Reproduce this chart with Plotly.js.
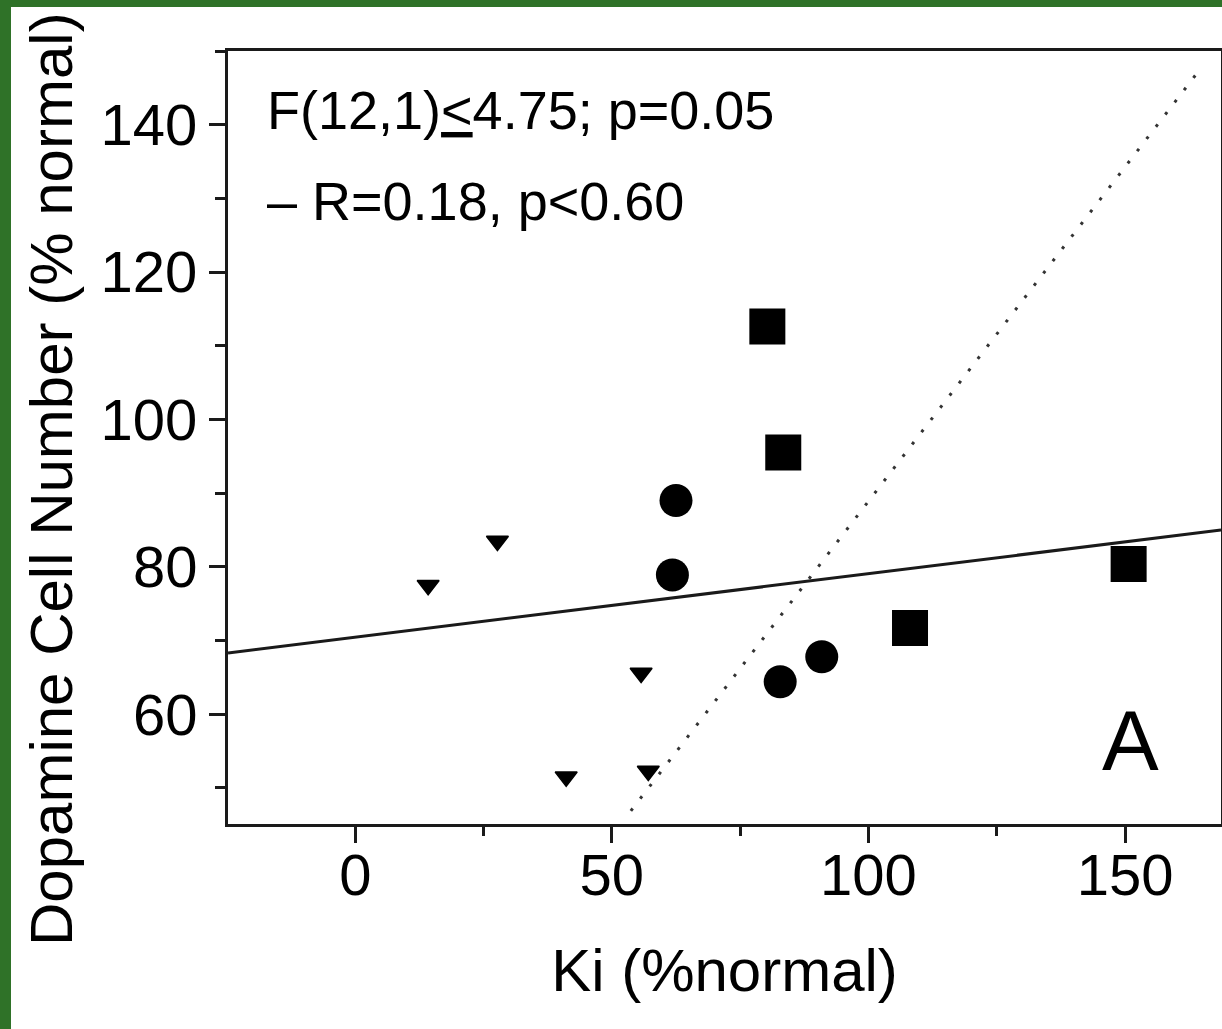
<!DOCTYPE html>
<html>
<head>
<meta charset="utf-8">
<script src="https://cdn.plot.ly/plotly-3.0.1.min.js"></script>
<style>
  html, body { margin: 0; padding: 0; width: 1222px; height: 1029px; overflow: hidden; background: #2f7228; }
  #panel { position: absolute; left: 11px; top: 7px; width: 1211px; height: 1022px; background: #ffffff; }
  #chart { position: absolute; left: 0; top: 0; width: 1222px; height: 1029px; }
</style>
</head>
<body>
<div id="panel"></div>
<div id="chart"></div>
<script>
// ---- data ----
const triX  = [14.2, 27.7, 55.7, 41.1, 57.1];
const triY  = [77.5, 83.5, 65.6, 51.5, 52.3];
const circX = [62.5, 61.8, 82.8, 90.9];
const circY = [89.0, 78.9, 64.4, 67.8];
const sqX   = [80.3, 83.4, 108.1, 150.7];
const sqY   = [112.6, 95.5, 71.7, 80.4];
const fitX  = [-24.8, 168.7];
const fitY  = [68.3, 85.0];
const dotX  = [53.7, 164.95];
const dotY  = [46.88, 147.83];
const xTickVals = [0, 50, 100, 150];
const yTickVals = [60, 80, 100, 120, 140];
const xTitle = 'Ki (%normal)';
const yTitle = 'Dopamine Cell Number (% normal)';
const statText1 = 'F(12,1)<u>&lt;</u>4.75; p=0.05';
const statText2 = '– R=0.18, p&lt;0.60';
const panelLabel = 'A';

const FONT = 'Liberation Sans, Arial, Helvetica, sans-serif';

const traces = [
  { x: fitX, y: fitY, mode: 'lines', line: { color: '#1a1a1a', width: 3 }, hoverinfo: 'skip', showlegend: false },
  { x: dotX, y: dotY, mode: 'lines', line: { color: '#333333', width: 3, dash: '3px,12.4px' }, hoverinfo: 'skip', showlegend: false },
  { x: triX, y: triY, mode: 'markers', marker: { symbol: 'triangle-down', size: 19, color: '#000', line: { color: '#000', width: 1.5 } }, showlegend: false },
  { x: circX, y: circY, mode: 'markers', marker: { symbol: 'circle', size: 33, color: '#000' }, showlegend: false },
  { x: sqX, y: sqY, mode: 'markers', marker: { symbol: 'square', size: 36, color: '#000' }, showlegend: false }
];

const axisCommon = {
  showgrid: false, zeroline: false,
  showline: true, linecolor: '#1a1a1a', linewidth: 3, mirror: true,
  ticks: 'outside', ticklen: 16, tickwidth: 3, tickcolor: '#1a1a1a',
  tickfont: { family: FONT, size: 58, color: '#000' }
};

const layout = {
  width: 1222, height: 1029,
  margin: { l: 228, r: 1, t: 51, b: 205 },
  paper_bgcolor: 'rgba(0,0,0,0)', plot_bgcolor: '#ffffff',
  font: { family: FONT, color: '#000' },
  xaxis: Object.assign({}, axisCommon, {
    range: [-24.8, 168.7], tickvals: xTickVals, ticktext: xTickVals.map(String),
    ticklabelstandoff: -18,
    minor: { dtick: 25, tick0: 0, ticks: 'outside', ticklen: 9, tickwidth: 3, tickcolor: '#1a1a1a' },
    title: { text: xTitle, font: { family: FONT, size: 60, color: '#000' }, standoff: 44 }
  }),
  yaxis: Object.assign({}, axisCommon, {
    range: [45.1, 150], tickvals: yTickVals, ticktext: yTickVals.map(String),
    minor: { dtick: 10, tick0: 0, ticks: 'outside', ticklen: 10, tickwidth: 3, tickcolor: '#1a1a1a' }
  }),
  annotations: [
    { text: yTitle, textangle: -90, xref: 'paper', yref: 'paper', x: 0, y: 0.4463,
      xshift: -177, xanchor: 'center', yanchor: 'middle', showarrow: false,
      font: { family: FONT, size: 60, color: '#000' } },
    { text: statText1, xref: 'x', yref: 'y', x: -17.5, y: 142.0, xanchor: 'left', yanchor: 'middle',
      showarrow: false, font: { family: FONT, size: 54, color: '#000' } },
    { text: statText2, xref: 'x', yref: 'y', x: -17.5, y: 129.6, xanchor: 'left', yanchor: 'middle',
      showarrow: false, font: { family: FONT, size: 54, color: '#000' } },
    { text: panelLabel, xref: 'x', yref: 'y', x: 151, y: 56.4, xanchor: 'center', yanchor: 'middle',
      showarrow: false, font: { family: FONT, size: 85, color: '#000' } }
  ]
};

Plotly.newPlot('chart', traces, layout, { displayModeBar: false, staticPlot: true });
</script>
</body>
</html>
